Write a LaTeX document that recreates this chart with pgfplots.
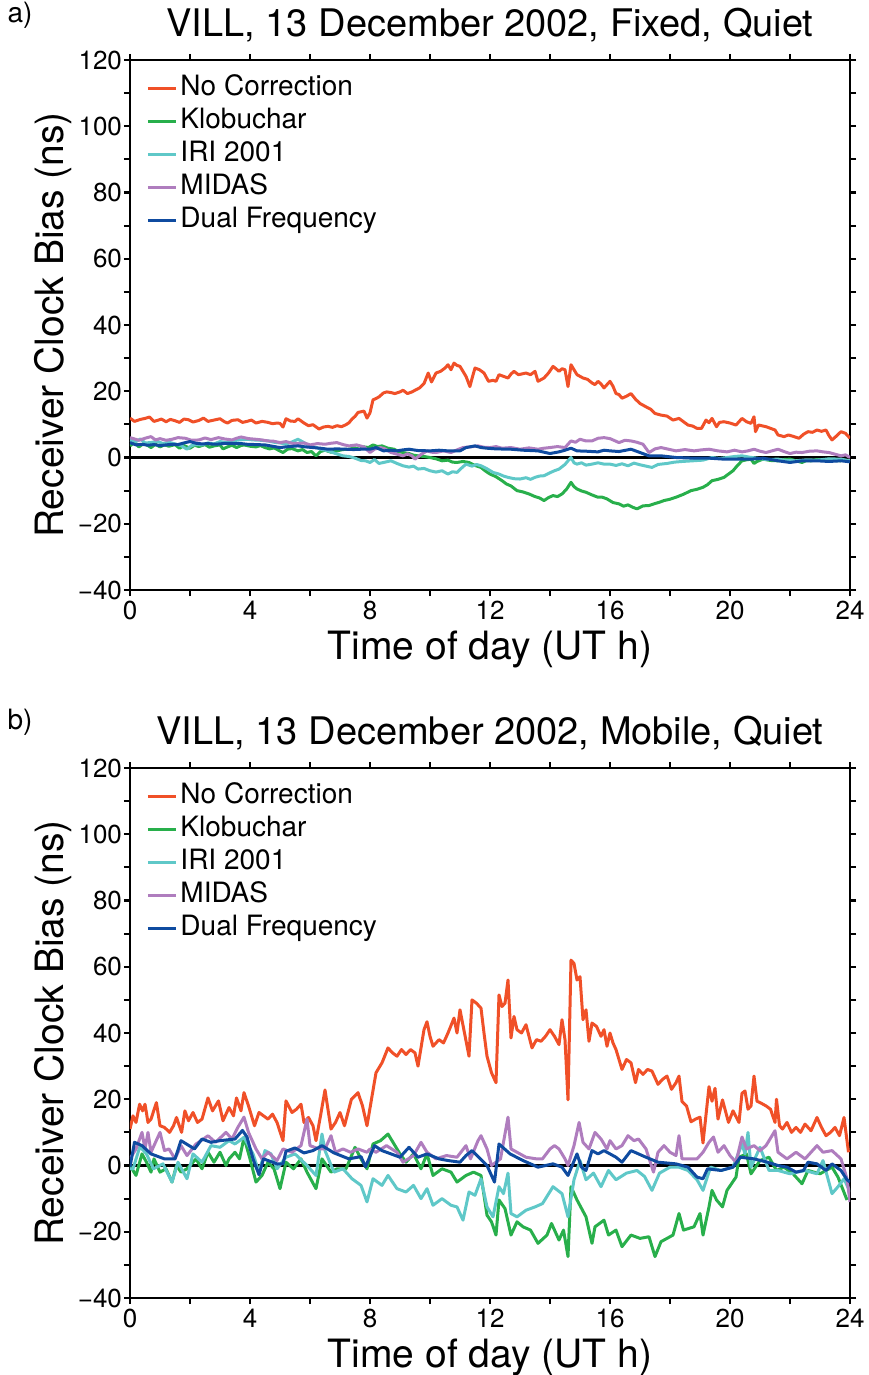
\documentclass[border=0pt]{standalone}
\usepackage{fontspec}
\setmainfont{TeX Gyre Heros}
\usepackage{pgfplots}
\pgfplotsset{compat=1.18}

\definecolor{cNo}{RGB}{240,80,40}
\definecolor{cKlo}{RGB}{40,175,75}
\definecolor{cIri}{RGB}{95,200,200}
\definecolor{cMid}{RGB}{175,125,190}
\definecolor{cDual}{RGB}{15,75,160}

\pgfplotsset{every axis title shift=0pt}
\pgfplotsset{vill/.style={
  width=360pt, height=265pt, scale only axis,
  xmin=0, xmax=24, ymin=-40, ymax=120,
  xtick={0,4,...,24}, minor xtick={2,6,...,22},
  xticklabels={0,4,8,12,16,20,24},
  ytick={-40,-20,...,120}, minor ytick={-30,-10,...,110},
  yticklabels={−40,−20,0,20,40,60,80,100,120},
  tick align=outside, major tick length=3pt, minor tick length=3pt,
  every tick/.style={black, line width=1.1pt},
  axis line style={line width=1.4pt},
  tick label style={font=\fontsize{13}{13}\selectfont},
  yticklabel style={xshift=2.5pt},
  xticklabel style={yshift=1pt},
  label style={font=\fontsize{19.5}{20}\selectfont},
  xlabel={Time of day (UT h)},
  ylabel={Receiver Clock Bias (ns)},
  xlabel style={at={(axis description cs:0.5,-0.132)}, anchor=base},
  ylabel style={at={(axis description cs:-0.0917,0.5)}, anchor=base},
  title style={font=\fontsize{19}{20}\selectfont, at={(axis description cs:0.5,1.045)}, anchor=base},
  legend style={at={(0.014,0.986)}, anchor=north west, draw=none, fill=none,
    font=\fontsize{14}{14}\selectfont,
    nodes={text height=10.5pt, text depth=3pt, inner sep=1.5pt}},
  legend cell align=left,
  legend image code/.code={\draw[#1] (0pt,0pt) -- (14pt,0pt);},
  every axis plot/.append style={line width=1.5pt, line join=round},
}}

\begin{document}
\begin{tikzpicture}
\useasboundingbox (-65pt,-392.5pt) rectangle (369pt,295pt);

% ---------------- panel a ----------------
\begin{axis}[vill, name=a, at={(0,0)}, anchor=south west,
  title={VILL, 13 December 2002, Fixed, Quiet}]
\addplot[black, line width=1.3pt, forget plot] coordinates {(0,0)(24,0)};
\addplot[cNo] coordinates {(0,11.9)(0.15,10.9)(0.35,11.5)(0.5,11.8)(0.65,12.2)(0.8,10.9)(0.95,11.3)(1.05,11.6)(1.2,10.8)(1.35,11.5)(1.5,11.1)(1.65,10.6)(1.8,11.6)(1.95,11.4)(2.1,10.7)(2.3,11.2)(2.45,11.9)(2.6,10.9)(2.8,11.3)(3.0,11.7)(3.15,10.8)(3.25,10.4)(3.4,11.2)(3.6,11.4)(3.75,10.6)(3.9,10.9)(4.05,11.3)(4.2,10.4)(4.4,10.9)(4.6,10.6)(4.75,10.2)(4.9,10.4)(5.0,10.3)(5.1,9.2)(5.2,11.7)(5.35,11.0)(5.5,10.9)(5.6,11.7)(5.8,10.4)(5.95,9.6)(6.1,9.9)(6.3,8.6)(6.45,9.2)(6.6,9.4)(6.75,9.1)(6.9,9.6)(7.05,9.3)(7.2,9.9)(7.3,10.5)(7.4,11.6)(7.5,12.4)(7.6,13.6)(7.8,14)(7.9,11.9)(8.0,13.5)(8.1,17.4)(8.2,17.8)(8.3,18.3)(8.45,19.5)(8.56,19.8)(8.7,19.6)(8.83,19.3)(9.0,19.8)(9.1,20.3)(9.25,19.3)(9.4,19.8)(9.5,20.3)(9.65,21.0)(9.8,22.3)(9.94,25.5)(10.05,22.8)(10.2,25.5)(10.35,26.0)(10.5,27.0)(10.6,28)(10.7,26.5)(10.8,28.5)(10.9,27.8)(11.0,27.5)(11.1,26.0)(11.2,24.5)(11.33,21.4)(11.42,24.5)(11.5,27)(11.65,26.5)(11.8,25.5)(11.95,23)(12.1,23.3)(12.2,23)(12.3,25)(12.45,24.5)(12.6,24)(12.7,25.2)(12.8,26)(12.95,25)(13.1,25.3)(13.2,25.5)(13.35,25.0)(13.5,26)(13.6,23)(13.7,23.5)(13.8,24)(13.95,25.5)(14.1,27.5)(14.2,26.8)(14.3,26)(14.4,26.8)(14.5,26.5)(14.6,21.4)(14.7,28)(14.8,26.5)(14.9,25)(15.0,24.5)(15.1,24)(15.25,23.6)(15.4,22.5)(15.5,22.0)(15.6,23)(15.7,22.2)(15.8,21)(15.9,22.0)(16.0,23)(16.1,21.5)(16.2,19.3)(16.3,19.0)(16.4,17.9)(16.55,18.5)(16.7,19.3)(16.85,17.6)(17.0,16.3)(17.2,15.3)(17.35,14.6)(17.5,13.3)(17.7,12.8)(17.9,12.5)(18.1,11.3)(18.3,11.8)(18.45,10.8)(18.6,9.8)(18.75,9.5)(18.9,8.8)(19.05,8.8)(19.2,11.3)(19.3,10.5)(19.4,11.8)(19.55,9.3)(19.65,10.6)(19.8,10.8)(20.0,10.4)(20.2,9.8)(20.4,11.8)(20.55,10.8)(20.7,10.3)(20.8,12.3)(20.85,7.8)(20.95,9.8)(21.05,9.6)(21.2,9.3)(21.35,8.8)(21.5,8.3)(21.6,6.8)(21.8,6.3)(21.95,6.8)(22.1,6.4)(22.3,5.8)(22.45,7.0)(22.6,7.8)(22.75,7.6)(22.9,8.3)(23.05,7.9)(23.2,8.3)(23.3,6.6)(23.4,5.3)(23.55,6.5)(23.7,7.8)(23.85,7.3)(24,5.8)};
\addlegendentry{No Correction}
\addplot[cKlo] coordinates {(0,3.5)(0.15,4.5)(0.3,3.2)(0.45,4.2)(0.6,3.6)(0.7,3.0)(0.85,4.0)(1.0,3.2)(1.15,3.8)(1.3,3.4)(1.5,3.9)(1.65,2.8)(1.8,3.6)(2.0,2.8)(2.15,3.7)(2.3,3.3)(2.5,3.9)(2.65,3.1)(2.8,3.5)(3.0,3.8)(3.1,2.6)(3.25,3.2)(3.4,3.7)(3.55,3.0)(3.7,3.6)(3.8,3.8)(4.0,3.4)(4.2,3.2)(4.35,3.6)(4.5,3.0)(4.65,2.6)(4.8,2.9)(4.95,2.2)(5.1,1.5)(5.25,2.5)(5.4,2.7)(5.6,2.0)(5.75,2.4)(5.9,1.5)(6.05,1.8)(6.2,0.5)(6.35,1.8)(6.5,2.2)(6.7,1.6)(6.9,2.0)(7.1,2.4)(7.3,2.5)(7.5,2.9)(7.65,2.5)(7.8,3.2)(7.95,3.0)(8.1,3.8)(8.25,3.3)(8.4,3.5)(8.6,2.8)(8.8,2.5)(8.95,1.8)(9.1,1.5)(9.3,1.2)(9.45,0.7)(9.6,0.5)(9.8,0.3)(10.0,0)(10.2,-0.4)(10.4,-1)(10.6,-0.8)(10.75,-1.4)(10.9,-1.5)(11.1,-1.2)(11.3,-1.5)(11.5,-2.4)(11.7,-3)(11.85,-4.1)(12.0,-5)(12.2,-5.8)(12.4,-7)(12.55,-8.0)(12.7,-8.6)(12.9,-10)(13.1,-10.4)(13.3,-11)(13.5,-11.8)(13.65,-12.2)(13.8,-13)(13.95,-12.1)(14.1,-11.5)(14.25,-11.8)(14.4,-11)(14.55,-9.6)(14.7,-7.5)(14.8,-8.8)(14.9,-9.5)(15.05,-10.1)(15.2,-10.5)(15.4,-11.3)(15.6,-12)(15.75,-12.0)(15.9,-12.5)(16.1,-13.6)(16.3,-14)(16.45,-14.7)(16.6,-14.3)(16.75,-15.0)(16.9,-15.5)(17.1,-14.6)(17.3,-14.5)(17.5,-13.9)(17.65,-13.5)(17.8,-13)(18.0,-12.6)(18.2,-12)(18.45,-11.1)(18.7,-10)(18.9,-9.6)(19.1,-9)(19.25,-8.2)(19.4,-7)(19.6,-6.6)(19.8,-6)(19.95,-5.0)(20.1,-4)(20.25,-2.4)(20.4,-1)(20.55,-0.7)(20.7,-0.5)(20.8,-1.8)(20.9,-1.2)(21.1,-0.5)(21.35,-0.9)(21.6,-1)(21.8,-0.6)(22.0,-0.5)(22.2,-1.0)(22.4,-1.5)(22.55,-0.9)(22.7,-1)(22.9,-0.6)(23.1,-0.8)(23.3,-0.5)(23.5,-0.9)(23.7,-1)};
\addlegendentry{Klobuchar}
\addplot[cIri] coordinates {(0,5.2)(0.2,4.8)(0.35,5.6)(0.5,4.4)(0.7,4.5)(0.9,4.9)(1.1,4.2)(1.3,4.6)(1.5,4.1)(1.7,3.6)(1.9,2.5)(2.05,3.6)(2.2,3.9)(2.4,3.8)(2.6,4.4)(2.8,4.1)(3.0,4.8)(3.25,4.5)(3.45,5.1)(3.65,5.3)(3.9,5.5)(4.1,5.3)(4.35,5.2)(4.6,5)(4.8,4.6)(5.0,4.4)(5.2,4)(5.4,4.7)(5.6,5.5)(5.8,4.5)(6.0,3.5)(6.2,3.0)(6.4,2.4)(6.6,2)(6.85,1.2)(7.1,0.5)(7.3,0.3)(7.5,-0.2)(7.7,-0.9)(7.85,-1.0)(8.0,-1.5)(8.15,-0.6)(8.3,-1.8)(8.5,-1.4)(8.7,-1)(8.9,-1.8)(9.1,-2.5)(9.3,-2.9)(9.45,-2.6)(9.6,-3.5)(9.8,-3.3)(10.0,-4)(10.2,-4.4)(10.4,-4.0)(10.6,-5)(10.75,-4.3)(10.9,-4.5)(11.05,-3.2)(11.2,-2)(11.4,-2.6)(11.55,-2.1)(11.7,-2.5)(11.9,-3.4)(12.1,-4.5)(12.3,-5.0)(12.45,-5.6)(12.6,-6)(12.8,-6.4)(13.0,-6.5)(13.2,-6.1)(13.35,-6.6)(13.5,-6)(13.65,-5.6)(13.8,-5.5)(14.0,-4.6)(14.15,-4.0)(14.3,-3.5)(14.5,-2.1)(14.6,-1.0)(14.7,0)(14.8,-1.6)(14.9,-2)(15.05,-1.6)(15.2,-2.3)(15.4,-2)(15.6,-1.6)(15.8,-2)(16.0,-2)(16.2,-2.4)(16.4,-1.9)(16.6,-2.5)(16.8,-1.7)(17.0,-2.2)(17.2,-2.6)(17.4,-3)(17.6,-2.1)(17.9,-1.8)(18.15,-1.4)(18.4,-1.2)(18.75,-1.0)(19.1,-0.8)(19.4,0)(19.65,-0.3)(19.9,0)(20.15,0.3)(20.4,0.5)(20.65,0.1)(20.9,-0.2)(21.2,-0.6)(21.6,-0.5)(21.9,-0.9)(22.2,-1)(22.55,-0.7)(22.9,-0.8)(23.3,-0.4)(23.7,-0.5)(24,-1)};
\addlegendentry{IRI 2001}
\addplot[cMid] coordinates {(0,6)(0.15,5.6)(0.3,5.2)(0.5,5.8)(0.7,6.3)(0.85,5.3)(1.0,5.7)(1.2,5.2)(1.4,5.5)(1.6,6.0)(1.85,5.8)(2.05,5.2)(2.3,5.3)(2.5,5.9)(2.7,5.4)(2.95,6)(3.15,5.6)(3.4,5.3)(3.55,5.8)(3.7,6.2)(3.95,5.7)(4.2,5.5)(4.4,5.3)(4.6,5)(4.8,4.9)(5.0,4.5)(5.2,4.8)(5.4,4.3)(5.6,4.2)(5.8,4.4)(6.0,3.8)(6.25,4.2)(6.5,4)(6.7,4.3)(6.9,4.5)(7.1,3.9)(7.3,3.5)(7.55,3.8)(7.8,3.2)(8.0,1.5)(8.15,2.5)(8.35,3)(8.5,2.6)(8.7,1.5)(8.9,1.0)(9.1,0.5)(9.25,1.1)(9.4,0.5)(9.5,-0.5)(9.7,0.9)(9.9,2)(10.05,1.6)(10.2,1.5)(10.45,2.0)(10.7,1.5)(10.9,2.3)(11.1,3)(11.35,3.2)(11.6,3.5)(11.8,3.1)(12.0,3)(12.2,3.3)(12.4,2.8)(12.7,3.0)(13.0,2.5)(13.3,2.9)(13.6,2.5)(13.8,2.8)(14.0,3)(14.25,3.3)(14.5,3)(14.7,5)(14.85,4.6)(15.0,5.5)(15.2,5.0)(15.4,5)(15.6,5.8)(15.8,6)(16.0,5.7)(16.15,5.1)(16.3,4.5)(16.5,5.2)(16.7,5)(16.9,4.6)(17.1,4)(17.3,1.5)(17.5,2.6)(17.7,3)(17.95,2.5)(18.2,2)(18.5,2.4)(18.8,2)(19.05,2.3)(19.3,2.5)(19.6,2.0)(19.9,1.7)(20.15,2.2)(20.4,1.7)(20.6,2.0)(20.8,2.5)(21.0,1.9)(21.2,1.5)(21.4,2.0)(21.6,2.5)(21.8,1.8)(22.0,1.2)(22.2,1.6)(22.4,1.5)(22.65,1.9)(22.9,2)(23.1,1.7)(23.3,1.5)(23.5,1.0)(23.7,0.5)(23.85,0.8)(24,0)};
\addlegendentry{MIDAS}
\addplot[cDual] coordinates {(0,4.5)(0.2,3.8)(0.4,4.0)(0.6,3.7)(0.8,3.9)(1.0,3.6)(1.2,3.8)(1.4,4.0)(1.6,3.9)(1.8,4.4)(2.0,4.8)(2.2,4.3)(2.4,4.1)(2.6,4.2)(2.8,4)(3.0,4.1)(3.2,4.3)(3.5,4.2)(3.7,4.2)(3.9,4.0)(4.2,3.9)(4.5,3.8)(4.75,3.4)(5.0,3)(5.3,3.3)(5.6,3.5)(5.85,3.2)(6.1,3)(6.35,2.8)(6.6,2.5)(6.9,2.6)(7.2,2.5)(7.45,2.4)(7.7,2.5)(8.0,2.5)(8.2,3)(8.45,2)(8.7,2.2)(8.9,2)(9.1,2.3)(9.3,2.5)(9.6,2.1)(10.0,2)(10.3,2.2)(10.6,2.0)(11,2)(11.2,3)(11.5,3.5)(11.7,3.0)(11.9,2.8)(12.2,2.6)(12.7,2.5)(13.1,2.2)(13.6,2)(14.0,1.2)(14.3,1.7)(14.5,2.2)(14.7,2.8)(14.9,2)(15.2,1.9)(15.6,1.7)(15.8,2.2)(16.0,2)(16.3,1.8)(16.7,2.5)(17,1.5)(17.3,0.5)(17.7,0.5)(18.2,0)(18.8,-0.2)(19.3,-0.2)(19.8,-0.5)(20.2,-0.5)(20.7,-0.5)(21.1,-0.2)(21.6,-1)(22.0,-1.5)(22.4,-1)(22.9,-1)(23.3,-1.2)(23.7,-1)(24,-1.3)};
\addlegendentry{Dual Frequency}
\end{axis}

% ---------------- panel b ----------------
\begin{axis}[vill, name=b, at={(0,-354pt)}, anchor=south west,
  title={VILL, 13 December 2002, Mobile, Quiet}]
\addplot[black, line width=1.3pt, forget plot] coordinates {(0,0)(24,0)};
\addplot[cNo] coordinates {(0,11)(0.1,15)(0.2,13)(0.32,18.5)(0.42,16.5)(0.5,18.5)(0.6,13)(0.7,14)(0.88,19)(1.0,12)(1.15,11.5)(1.32,10)(1.45,12)(1.55,14.5)(1.72,10)(1.83,16.5)(1.95,13.5)(2.1,16)(2.25,13)(2.4,14)(2.6,20.4)(2.75,16.5)(2.95,19.5)(3.1,13.5)(3.3,17.5)(3.45,15)(3.55,20.4)(3.7,16.5)(3.8,22)(3.95,18)(4.15,12)(4.3,16)(4.45,15)(4.6,14)(4.75,15.5)(4.9,13)(5.1,7.5)(5.2,19.5)(5.4,16)(5.55,17)(5.7,18.5)(5.8,13)(5.95,14.5)(6.1,12)(6.2,7.5)(6.35,15)(6.5,22.8)(6.7,11)(6.85,13)(7.0,16)(7.15,12)(7.38,20)(7.6,22)(7.75,18)(7.9,12)(8.05,20)(8.2,28)(8.4,31)(8.6,35.5)(8.75,34)(8.9,33)(9.05,35)(9.2,33.5)(9.35,35)(9.5,34)(9.6,30)(9.8,41)(9.9,43.4)(10.0,39)(10.1,36)(10.3,38)(10.45,37)(10.6,40)(10.8,44.5)(10.9,40)(11.0,47)(11.15,40)(11.3,33)(11.4,50)(11.55,49)(11.7,47.5)(11.8,40)(11.9,33)(12.05,28)(12.2,25)(12.3,51.5)(12.4,48)(12.5,49)(12.6,56)(12.7,38.5)(12.8,45)(12.9,41)(13.05,40)(13.2,42.5)(13.4,35.5)(13.55,38)(13.7,37.5)(13.85,39)(14.0,41)(14.15,39)(14.3,36.5)(14.4,44)(14.5,38)(14.6,19.8)(14.7,62)(14.8,61)(14.9,56)(15.0,57)(15.1,44)(15.2,47)(15.3,37.5)(15.4,43)(15.55,42)(15.7,39)(15.8,41)(15.9,36)(16.0,40)(16.1,37)(16.2,35)(16.4,29)(16.55,32)(16.7,31)(16.85,25)(16.95,29)(17.1,27.5)(17.25,29)(17.4,28.5)(17.6,24.5)(17.75,26)(17.9,27)(18.05,23)(18.2,25)(18.3,27)(18.4,19.3)(18.55,18)(18.7,13.2)(18.85,14)(19.0,14.6)(19.1,6.8)(19.3,23.8)(19.4,19.4)(19.5,23.3)(19.6,14)(19.75,19.8)(19.95,13)(20.1,16.5)(20.3,13)(20.4,21.8)(20.5,22.5)(20.6,17)(20.7,18)(20.8,27)(20.9,19.4)(21.0,19)(21.2,18)(21.35,17)(21.5,13)(21.55,20)(21.65,12)(21.75,11)(21.9,13)(22.05,10)(22.2,11.5)(22.35,10)(22.5,12.5)(22.7,10.5)(22.9,14.5)(23.05,11.5)(23.2,9)(23.35,10)(23.5,11.5)(23.65,9)(23.8,14.5)(23.95,4)};
\addlegendentry{No Correction}
\addplot[cKlo] coordinates {(0,0)(0.2,-3)(0.4,3.5)(0.55,1)(0.7,-2)(0.8,2)(1.0,-2)(1.2,-1)(1.4,-5)(1.55,0)(1.7,-2)(1.9,-1)(2.2,2)(2.4,-1)(2.6,4)(2.8,1)(3.0,4)(3.2,0)(3.3,2)(3.5,4)(3.65,2)(3.8,8.5)(4.0,2)(4.2,-5)(4.4,-3)(4.6,1)(4.8,-1)(5.0,-7)(5.2,1)(5.45,-1)(5.7,2)(5.9,-2)(6.2,-7)(6.4,2)(6.7,-2)(6.9,-1)(7.2,-1)(7.5,5.5)(7.7,2)(7.9,-1)(8.1,6.5)(8.35,7.5)(8.6,9.5)(8.8,6.5)(9.0,3.5)(9.2,1)(9.45,3.5)(9.7,-1)(9.9,3.5)(10.1,-3)(10.4,-1)(10.7,-2)(10.9,-5)(11.2,-3)(11.45,-2)(11.7,-3)(11.9,-15)(12.05,-17)(12.2,-21)(12.3,-10.4)(12.5,-13)(12.7,-21)(12.9,-17)(13.1,-18.5)(13.35,-19.5)(13.6,-23.5)(13.9,-21)(14.05,-17.5)(14.3,-22.5)(14.45,-19.5)(14.6,-27.5)(14.7,-6.4)(14.9,-10.4)(15.2,-15.5)(15.4,-23.5)(15.5,-18.5)(15.8,-16.5)(15.95,-21)(16.2,-19.5)(16.4,-24.5)(16.7,-21)(17.0,-22)(17.3,-21.5)(17.5,-27.5)(17.7,-23)(17.9,-22)(18.1,-21)(18.3,-14.5)(18.45,-19.5)(18.8,-18.5)(19.0,-14.5)(19.1,-21)(19.3,-12.5)(19.4,-7.5)(19.55,-10.4)(19.75,-12.5)(19.9,-7.5)(20.2,-3.5)(20.3,2.5)(20.55,3.5)(20.7,-2.5)(21.0,1.5)(21.3,2.5)(21.55,-1.5)(21.8,-0.5)(22.1,-2.5)(22.4,-5.5)(22.6,-1.5)(23.0,-2.5)(23.4,-0.5)(23.6,-3.5)(23.9,-10.4)};
\addlegendentry{Klobuchar}
\addplot[cIri] coordinates {(0,-1)(0.1,-1)(0.33,5.7)(0.55,3.5)(0.78,-1)(1.1,0.5)(1.4,-5)(1.6,1)(1.9,-4)(2.1,3.5)(2.4,1)(2.7,6)(3.0,5.5)(3.3,7.5)(3.5,6.5)(3.8,8.5)(4.1,3.5)(4.3,-2)(4.5,4.5)(4.7,3.5)(4.9,-1)(5.2,2.5)(5.5,3.5)(5.9,0)(6.2,-3)(6.4,9.5)(6.5,4.5)(6.8,-2)(7.1,-1)(7.4,-4)(7.7,-6)(7.9,-11)(8.1,-4)(8.4,-6)(8.6,-3)(8.9,-7)(9.2,-8)(9.45,-6)(9.7,-10)(9.9,-7)(10.1,-12)(10.4,-10)(10.7,-12)(10.9,-12.5)(11.1,-16.5)(11.3,-8)(11.5,-9)(11.7,-4)(11.9,-12.5)(12.1,-15.5)(12.3,-6.4)(12.45,-8.5)(12.6,-2.3)(12.7,-14.5)(12.9,-15.5)(13.2,-13.5)(13.5,-12.5)(13.75,-11.5)(14.1,-6.4)(14.4,-8.5)(14.6,-15.5)(14.8,-4.3)(15.0,1.5)(15.2,-4.3)(15.45,-2.3)(15.7,-6.4)(15.95,-1.5)(16.2,-4.3)(16.55,-2.3)(16.9,-1.5)(17.15,-3.3)(17.4,-7.5)(17.65,-2.3)(18.0,-0.5)(18.3,-0.5)(18.6,-1.5)(18.9,-4.3)(19.1,-7.5)(19.35,-0.5)(19.7,-1.5)(20.1,-0.5)(20.4,6.5)(20.5,3.5)(20.6,10)(20.7,-0.5)(21.0,5.5)(21.3,-1.5)(21.6,-1.5)(22.0,-2.5)(22.5,-1.5)(22.9,-2.5)(23.1,1.5)(23.4,-8.5)(23.6,-6.4)(23.8,-4)(24,-8)};
\addlegendentry{IRI 2001}
\addplot[cMid] coordinates {(0,2)(0.2,5)(0.4,10)(0.5,5)(0.6,10)(0.7,4)(1.0,10)(1.15,4.5)(1.3,5)(1.5,2)(1.7,6)(1.9,3)(2.2,6.5)(2.45,8)(2.6,9)(2.85,7)(3.2,10)(3.4,8)(3.6,11.6)(3.8,14.6)(3.95,10)(4.2,5)(4.4,2)(4.6,4)(4.9,1.5)(5.1,5)(5.4,4)(5.7,6)(5.9,14)(6.0,6)(6.3,5)(6.5,5)(6.7,9)(6.85,4)(7.1,5)(7.35,4)(7.6,5)(7.9,4)(8.0,5)(8.2,4)(8.55,6)(8.9,4)(9.1,1)(9.45,3)(9.7,7)(9.9,4)(10.2,2)(10.55,3)(10.9,2.5)(11.2,6)(11.35,2)(11.6,7.5)(11.7,9)(11.9,5)(12.05,0)(12.35,2)(12.6,14.6)(12.7,5)(12.9,4)(13.2,2.5)(13.55,2)(13.75,2)(14.0,5)(14.15,6)(14.3,5)(14.5,2)(14.6,0)(14.8,6)(14.97,13)(15.1,7)(15.3,5)(15.5,10)(15.7,8)(15.9,5)(16.0,7.5)(16.2,5)(16.4,6)(16.6,9)(16.8,7.5)(16.95,8)(17.2,5)(17.45,-2)(17.6,4)(17.8,6)(18.0,4)(18.2,3)(18.3,9)(18.4,2)(18.65,2)(18.9,2)(19.1,4)(19.3,7)(19.45,8.6)(19.6,4)(19.8,6)(20.0,3)(20.2,1)(20.4,8.6)(20.55,5)(20.8,6)(21.0,4.5)(21.2,6)(21.5,10.5)(21.6,4)(21.9,2)(22.2,4)(22.5,2)(22.7,4)(22.9,6)(23.1,4)(23.4,4.5)(23.7,2)(23.9,-4)(24,-11)};
\addlegendentry{MIDAS}
\addplot[cDual] coordinates {(0,-0.4)(0.15,7)(0.4,6)(0.7,3.5)(1.15,2)(1.5,2)(1.7,7.5)(2.15,5)(2.4,8)(2.7,7)(3.0,7.5)(3.5,8)(3.75,10.6)(3.9,8.6)(4.1,2)(4.3,-2.8)(4.45,2)(4.9,0.5)(5.1,0.5)(5.2,4.3)(5.5,5.3)(5.8,3.8)(6.1,4.5)(6.4,6)(6.8,3.8)(7.3,2)(7.7,2.7)(7.85,-0.4)(8.15,6)(8.4,4.5)(8.7,3.5)(9.0,2.5)(9.3,5.5)(9.6,2.5)(9.9,3.5)(10.3,2)(10.6,1.5)(11.0,1)(11.2,3)(11.4,4.5)(11.9,0)(12.15,-5)(12.3,6.5)(12.67,3.5)(13.1,1.5)(13.6,-0.5)(14.1,0.5)(14.4,-0.5)(14.6,-3)(14.9,3.5)(15.05,-0.5)(15.2,-1.5)(15.4,4.5)(15.6,3.5)(15.8,4.5)(16.2,2.5)(16.4,1)(16.7,4.5)(17.2,2.5)(17.6,1)(18.2,0.5)(18.6,-0.5)(18.9,-3.5)(19.1,-4)(19.25,-1)(19.7,-1.5)(20.1,-0.5)(20.35,2.5)(20.8,2)(21.25,1)(21.6,0)(21.9,-0.5)(22.2,-2)(22.45,-1.5)(22.6,1)(22.9,0.5)(23.2,-1.5)(23.4,0.5)(23.7,-1.5)(23.9,-4.3)(24,-5)};
\addlegendentry{Dual Frequency}
\end{axis}

\node[font=\fontsize{14}{14}\selectfont] at (-55pt,287.5pt) {a)};
\node[font=\fontsize{14}{14}\selectfont] at (-55pt,-66pt) {b)};
\end{tikzpicture}
\end{document}
